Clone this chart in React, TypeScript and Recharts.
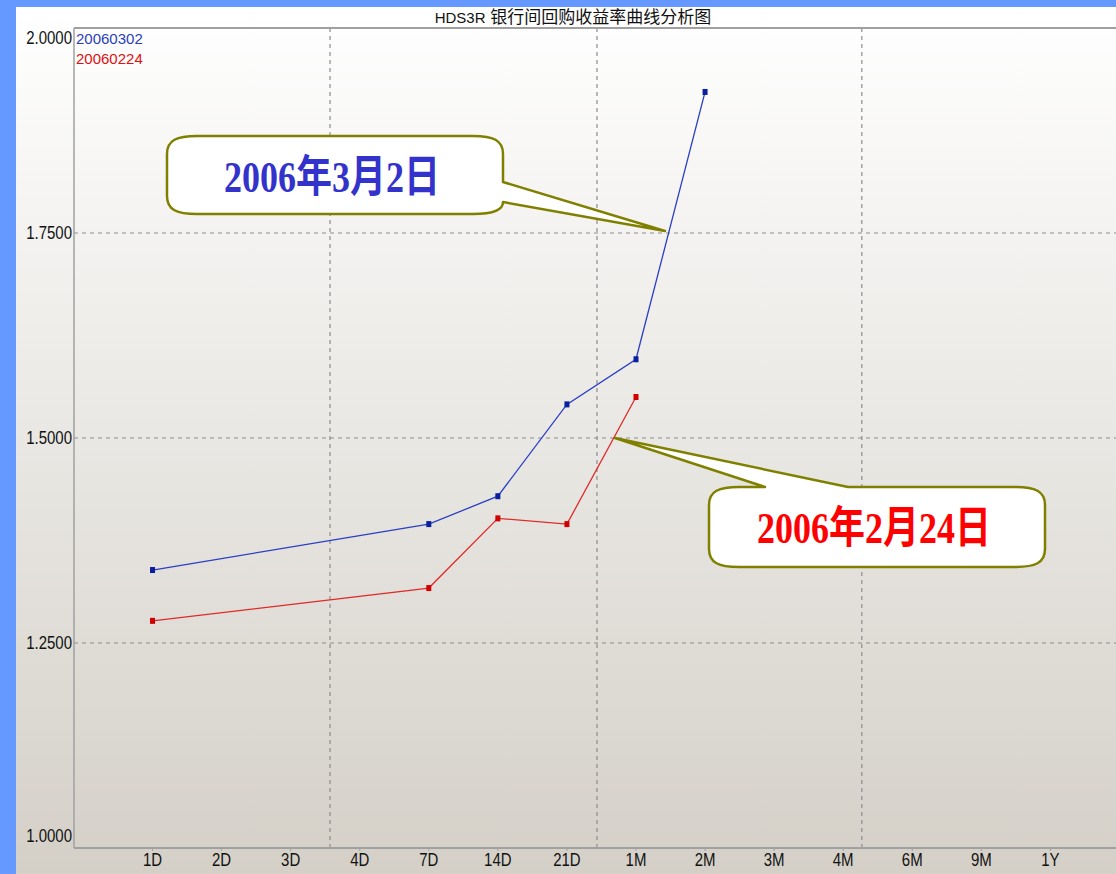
import { LineChart, Line, XAxis, YAxis, CartesianGrid, ReferenceLine } from 'recharts';

// tenor categories along the x axis (index = position)
const tenors = ['1D', '2D', '3D', '4D', '7D', '14D', '21D', '1M', '2M', '3M', '4M', '6M', '9M', '1Y'];
const tenorIdx = tenors.map((_, i) => i);

// 20060302 curve
const rates0302 = [1.339, null, null, null, 1.395, 1.429, 1.541, 1.596, 1.922];
// 20060224 curve
const rates0224 = [1.277, null, null, null, 1.317, 1.402, 1.395, 1.550, null];

const yTicks = [1.0, 1.25, 1.5, 1.75, 2.0];
const yGrid = [1.25, 1.5, 1.75];
const xGrid = [2.57, 6.435, 10.27];

const rows = tenors
  .map((t, i) => ({ idx: i, tenor: t, a: rates0302[i] ?? null, b: rates0224[i] ?? null }))
  .filter((r) => r.a !== null || r.b !== null);

const BLUE_LINE = '#2b3fc4';
const RED_LINE = '#e02a2a';
const GRID = '#8c8c8c';
const FRAME = '#a0a0a0';
const sans = '"Liberation Sans", Arial, sans-serif';

function SquareDot(color: string) {
  return (props: any) => {
    const { cx, cy, value } = props;
    if (value === null || value === undefined || cx == null || cy == null) return null;
    return <rect key={`${cx}-${cy}`} x={cx - 2.5} y={cy - 3} width={5} height={6} fill={color} />;
  };
}

const YTick = (props: any) => {
  const { x, y, payload } = props;
  let dy = 6;
  if (payload.value === 2) dy = 16;
  if (payload.value === 1) dy = -6;
  return (
    <text
      transform={`translate(${x},${y + dy}) scale(1,1.18)`}
      textAnchor="end"
      fontSize={15}
      fontFamily={sans}
      fill="#111"
    >
      {Number(payload.value).toFixed(4)}
    </text>
  );
};

const XTick = (props: any) => {
  const { x, y, payload } = props;
  return (
    <text
      transform={`translate(${x},${y + 13}) scale(1,1.18)`}
      textAnchor="middle"
      fontSize={15}
      fontFamily={sans}
      fill="#111"
    >
      {tenors[payload.value]}
    </text>
  );
};

const calloutFont = '"Liberation Serif", "Times New Roman", "Noto Sans CJK SC", serif';

export default function App() {
  return (
    <div style={{ position: 'absolute', left: 0, top: 0, width: 1116, height: 874, background: '#6699ff', overflow: 'hidden' }}>
      <div
        style={{
          position: 'absolute',
          left: 16,
          top: 7,
          width: 1100,
          height: 867,
          background: 'linear-gradient(#ffffff 0%, #f4f3f1 25%, #d4d0c8 100%)',
        }}
      >
        <div
          style={{
            position: 'absolute',
            left: 557,
            top: 1,
            transform: 'translateX(-50%)',
            whiteSpace: 'nowrap',
            fontFamily: '"Liberation Sans", "Noto Sans CJK SC", sans-serif',
            fontSize: 17,
            lineHeight: '20px',
            color: '#111',
          }}
        >
          <span style={{ fontSize: 15 }}>HDS3R</span> 银行间回购收益率曲线分析图
        </div>
        <LineChart width={1100} height={867} data={rows} margin={{ top: 21, right: 0, bottom: 0, left: 0 }}>
          <CartesianGrid horizontal={false} vertical={false} />
          <XAxis
            dataKey="idx"
            type="number"
            domain={[-1.137, 13.95]}
            ticks={tenorIdx}
            allowDataOverflow
            height={26}
            tick={<XTick />}
            tickSize={3}
            tickLine={{ stroke: FRAME }}
            axisLine={{ stroke: FRAME, strokeWidth: 2 }}
          />
          <YAxis
            type="number"
            domain={[1, 2]}
            ticks={yTicks}
            width={58}
            tick={<YTick />}
            tickLine={false}
            tickSize={0}
            tickMargin={2}
            axisLine={{ stroke: FRAME, strokeWidth: 1.5 }}
          />
          {yGrid.map((v) => (
            <ReferenceLine key={`y${v}`} y={v} stroke={GRID} strokeDasharray="4 4" strokeWidth={1.2} />
          ))}
          {xGrid.map((v) => (
            <ReferenceLine key={`x${v}`} x={v} stroke={GRID} strokeDasharray="4 4" strokeWidth={1.2} />
          ))}
          <ReferenceLine y={2} stroke={FRAME} strokeWidth={2} />
          <Line
            dataKey="a"
            stroke={BLUE_LINE}
            strokeWidth={1.3}
            dot={SquareDot('#0a1ea0')}
            isAnimationActive={false}
            connectNulls
          />
          <Line
            dataKey="b"
            stroke={RED_LINE}
            strokeWidth={1.3}
            dot={SquareDot('#d00000')}
            isAnimationActive={false}
            connectNulls
          />
        </LineChart>
        <div
          style={{
            position: 'absolute',
            left: 60,
            top: 22,
            fontFamily: sans,
            fontSize: 15,
            lineHeight: '20px',
          }}
        >
          <div style={{ color: '#2a3fc0' }}>20060302</div>
          <div style={{ color: '#e01010' }}>20060224</div>
        </div>
      </div>

      {/* callout annotations */}
      <svg width={1116} height={874} style={{ position: 'absolute', left: 0, top: 0, pointerEvents: 'none' }}>
        <path
          d="M 197 136 L 473 136 C 493 136 503 140 503 154 L 503 182 L 665 231 L 503 202 C 503 210 493 214 473 214 L 197 214 C 177 214 167 210 167 196 L 167 154 C 167 140 177 136 197 136 Z"
          fill="#ffffff"
          stroke="#808000"
          strokeWidth={2.5}
          strokeLinejoin="round"
        />
        <text
          transform="translate(332,192) scale(1,1.22)"
          textAnchor="middle"
          fontSize={36}
          fontWeight={700}
          fontFamily={calloutFont}
          fill="#3333cc"
        >
          2006年3月2日
        </text>
        <path
          d="M 739 487 L 765 487 L 615 438 L 848 487 L 1015 487 C 1035 487 1045 491 1045 505 L 1045 549 C 1045 563 1035 567 1015 567 L 739 567 C 719 567 709 563 709 549 L 709 505 C 709 491 719 487 739 487 Z"
          fill="#ffffff"
          stroke="#808000"
          strokeWidth={2.5}
          strokeLinejoin="round"
        />
        <text
          transform="translate(874,543) scale(1,1.22)"
          textAnchor="middle"
          fontSize={36}
          fontWeight={700}
          fontFamily={calloutFont}
          fill="#ff0000"
        >
          2006年2月24日
        </text>
      </svg>
    </div>
  );
}
